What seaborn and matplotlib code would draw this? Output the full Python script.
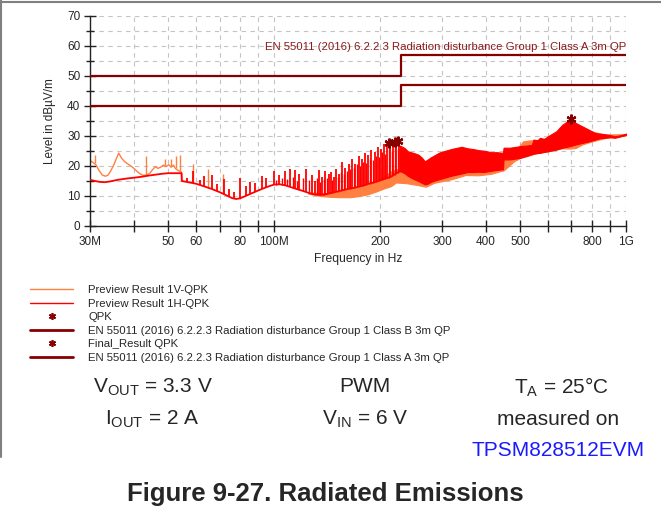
import matplotlib
matplotlib.use('Agg')
import matplotlib.pyplot as plt
from matplotlib.lines import Line2D
import seaborn as sns

# all frequencies in MHz, levels in dBuV/m

# Preview Result 1H-QPK (red): baseline 30M..230M
h_base_f = [30, 31, 32, 33, 34, 35, 36, 38, 40, 42, 44, 46, 48, 50, 52, 54.6,
            54.7, 57, 60, 63, 66, 70, 73, 76, 78, 80, 83, 86, 90, 94, 97, 100,
            104, 108, 112, 116, 120, 125, 129, 134, 138, 144, 150, 156, 163, 170,
            178, 186, 193, 200, 207, 214, 220, 226, 230]
h_base_v = [15.4, 15.0, 14.7, 14.6, 14.8, 15.1, 15.4, 15.8, 16.1, 16.4, 16.8, 17.1,
            17.4, 17.6, 17.6, 17.6, 15.0, 14.6, 14.1, 13.3, 12.5, 11.3, 10.3, 9.3,
            9.0, 9.2, 10.0, 10.8, 11.8, 12.7, 13.3, 13.8, 13.9, 13.5, 12.9, 12.3,
            11.8, 11.1, 10.6, 10.4, 10.4, 10.9, 11.4, 11.9, 12.4, 12.8, 13.4, 14.1,
            14.6, 15.2, 15.8, 16.3, 17.2, 18.0, 18.3]

# 1H spikes: frequency, foot, top
h_spike_f = [56.5, 59, 61.5, 63.3, 66.5, 69, 71.9, 74.4, 77, 80.2, 83, 85.7, 88.5,
             92.5, 95, 100, 103, 107.6, 111, 114.8, 118, 123, 128, 131, 134, 137,
             140, 143, 145, 148, 150, 153, 156, 159.5, 163, 166.5, 170, 174, 177.6,
             181, 185, 189, 193, 197, 201, 205, 209.5, 214, 218, 222.5, 226]
h_spike_lo = [14.7, 14.2, 13.8, 13.3, 12.5, 11.6, 10.8, 10.0, 9.2, 9.2, 10.0, 10.7,
              11.4, 12.3, 12.8, 13.8, 13.9, 13.5, 13.0, 12.5, 12.1, 11.4, 10.7, 10.5,
              10.4, 10.4, 10.5, 10.8, 10.9, 11.2, 11.4, 11.6, 11.9, 12.1, 12.4, 12.6,
              12.8, 13.1, 13.4, 13.6, 14.0, 14.3, 14.6, 14.9, 15.3, 15.6, 16.0, 16.3,
              16.9, 17.5, 18.0]
h_spike_hi = [16.0, 18.3, 15.5, 16.7, 16.9, 14.0, 15.6, 12.5, 11.5, 16.1, 13.3, 14.7,
              14.2, 16.7, 16.1, 18.3, 17.0, 18.2, 19.1, 18.6, 17.5, 19.1, 17.0, 15.0,
              18.8, 16.5, 18.3, 17.5, 17.9, 16.5, 19.1, 17.5, 21.3, 19.4, 20.5, 22.4,
              20.5, 23.3, 22.5, 24.4, 23.8, 25.3, 24.8, 26.4, 25.8, 27.2, 27.7, 28.2,
              28.0, 28.2, 28.0]

# smaller 1H spikes sitting between the main ones
h_spike2_f = [101.5, 105.5, 109, 113, 116.5, 120.5, 125.5, 132.5, 135.5, 138.5, 141.5,
              146.5, 151.5, 154.5, 157.7, 161.2, 164.7, 168.2, 172, 175.8, 179.3, 183,
              187, 191, 195, 199, 203, 207, 211.8, 216, 220.2, 224.3, 228]
h_spike2_lo = [13.8, 13.8, 13.3, 12.8, 12.3, 11.7, 11.0, 10.4, 10.4, 10.4, 10.6, 11.0,
               11.5, 11.7, 12.0, 12.2, 12.5, 12.7, 12.9, 13.2, 13.5, 13.8, 14.1, 14.5,
               14.7, 15.1, 15.4, 15.8, 16.1, 16.6, 17.1, 17.7, 18.2]
h_spike2_hi = [15.5, 16.0, 15.8, 16.5, 15.0, 16.0, 15.5, 16.0, 14.8, 15.8, 16.0, 15.5,
               16.5, 18.0, 17.5, 18.5, 19.0, 19.5, 20.5, 20.0, 21.5, 21.0, 22.5, 22.0,
               23.5, 23.0, 24.5, 24.0, 25.5, 25.0, 26.0, 25.5, 26.5]

# 1H dense band 228M..1G
h_band_f = [228, 235, 240, 250, 257, 263, 268, 272, 278, 285, 295, 305, 320, 341,
            355, 370, 380, 395, 414, 430, 447, 449, 468, 500, 520, 540, 546, 560,
            570, 585, 600, 634, 660, 692, 721, 752, 784, 817, 840, 870, 900, 930,
            960, 1000]
h_band_lo = [18.3, 17.6, 16.7, 15.6, 15.0, 14.4, 13.9, 14.0, 14.6, 15.1, 15.6, 16.1,
             16.8, 17.5, 18.0, 18.0, 18.1, 18.0, 18.4, 18.7, 18.9, 22.2, 22.2, 22.7,
             23.3, 23.9, 24.1, 24.3, 24.4, 24.7, 24.9, 25.5, 26.1, 26.6, 27.2, 27.7,
             28.2, 28.8, 29.2, 29.4, 29.6, 29.4, 29.8, 30.4]
h_band_hi = [26.8, 26.0, 24.9, 24.3, 23.8, 22.8, 21.6, 22.0, 22.8, 23.5, 24.5, 25.0,
             25.7, 26.4, 25.9, 25.6, 25.3, 25.1, 24.6, 24.6, 24.4, 26.1, 26.1, 26.6,
             26.8, 27.0, 28.8, 28.6, 29.4, 29.0, 29.9, 31.6, 33.8, 35.4, 34.3, 33.2,
             32.1, 31.0, 30.8, 30.6, 30.3, 29.9, 30.2, 30.8]

# Preview Result 1V-QPK (orange): trace 30M..55M
v_f = [30.0, 30.5, 31.2, 31.8, 32.5, 33.2, 33.8, 34.4, 35.0, 35.6, 36.2, 36.8, 37.5,
       38.3, 39.2, 40.0, 40.8, 41.6, 42.4, 43.5, 44.4, 45.2, 46.0, 46.8, 47.6, 48.5,
       49.4, 50.2, 51.0, 51.8, 52.4, 53.0, 53.6, 54.6, 54.7]
v_v = [21.8, 21.3, 20.4, 18.6, 17.0, 16.6, 17.0, 18.5, 20.2, 22.3, 24.3, 22.8, 21.6,
       20.8, 20.0, 19.2, 18.2, 17.4, 16.9, 17.0, 17.6, 18.8, 19.8, 19.2, 19.6, 20.3,
       19.8, 20.4, 19.6, 20.3, 19.2, 18.8, 18.4, 18.0, 15.0]

v_spike_f = [31.0, 43.3, 48.9, 50.8, 52.6, 54.2, 59, 65, 71.5]
v_spike_lo = [21.0, 17.0, 20.0, 20.0, 19.5, 18.5, 14.2, 12.8, 11.0]
v_spike_hi = [23.8, 23.3, 22.3, 22.3, 23.2, 23.8, 20.5, 18.9, 17.2]

# 1V band 125M..1G
v_band_f = [125, 135, 145, 155, 165, 175, 185, 195, 205, 215, 222, 230, 240, 257,
            270, 285, 320, 350, 380, 414, 440, 449, 480, 500, 510, 530, 545, 560,
            600, 660, 692, 720, 752, 800, 870, 1000]
v_band_lo = [10.8, 10.0, 9.7, 9.6, 9.6, 10.0, 10.6, 11.5, 12.5, 13.3, 14.5, 14.4,
             14.2, 13.6, 13.1, 14.4, 15.6, 17.0, 16.9, 17.4, 18.3, 18.5, 21.5, 22.7,
             23.0, 23.5, 24.0, 24.3, 24.9, 25.9, 25.8, 26.0, 27.2, 28.2, 29.3, 30.2]
v_band_hi = [11.2, 11.0, 11.0, 11.8, 12.4, 13.2, 14.0, 15.0, 16.5, 18.2, 19.0, 18.5,
             17.0, 15.5, 14.5, 16.0, 17.5, 18.5, 18.5, 19.0, 19.5, 22.5, 24.0, 27.0,
             28.2, 28.5, 28.6, 28.5, 29.5, 32.0, 33.0, 33.0, 32.5, 31.5, 30.5, 30.6]

# quasi-peak final measurements
qpk_f = [212, 220, 225, 696]
qpk_v = [27.8, 28.1, 28.3, 35.8]

# EN 55011 limit lines
limit_f = [30, 230, 230, 1000]
class_b = [40, 40, 47, 47]
class_a = [50, 50, 57, 57]

xtick_pos = [30, 40, 50, 60, 70, 80, 90, 100, 200, 300, 400, 500, 600, 700, 800, 900, 1000]
xtick_lab = ['30M', '', '50', '60', '', '80', '', '100M', '200', '300', '400', '500',
             '', '', '800', '', '1G']

ORANGE = '#ff8040'
RED = '#ff0000'
DARKRED = '#870000'
STAR = (6, 2, 0)
LIMIT_A = 'EN 55011 (2016) 6.2.2.3 Radiation disturbance Group 1 Class A 3m QP'
LIMIT_B = 'EN 55011 (2016) 6.2.2.3 Radiation disturbance Group 1 Class B 3m QP'

sns.set_style('ticks')
plt.rcParams['font.family'] = ['Liberation Sans', 'DejaVu Sans']
plt.rcParams['mathtext.default'] = 'regular'

fig = plt.figure(figsize=(6.61, 5.18), dpi=100)
ax = fig.add_axes([90 / 661, 1 - 226 / 518, 536 / 661, 210 / 518])

# orange (vertical polarisation) first, red on top
ax.fill_between(v_band_f, v_band_lo, v_band_hi, color=ORANGE, lw=0.8, zorder=2)
sns.lineplot(x=v_f, y=v_v, ax=ax, color=ORANGE, lw=1.0, estimator=None, sort=False, zorder=2)
ax.vlines(v_spike_f, v_spike_lo, v_spike_hi, color=ORANGE, lw=1.0, zorder=2)

ax.vlines(h_spike2_f, h_spike2_lo, h_spike2_hi, color=RED, lw=1.0, zorder=3)
ax.vlines(h_spike_f, h_spike_lo, h_spike_hi, color=RED, lw=1.3, zorder=3)
sns.lineplot(x=h_base_f, y=h_base_v, ax=ax, color=RED, lw=1.3, estimator=None, sort=False, zorder=3)
ax.fill_between(h_band_f, h_band_lo, h_band_hi, color=RED, lw=0.8, zorder=3)

sns.lineplot(x=limit_f, y=class_b, ax=ax, color=DARKRED, lw=1.6, estimator=None, sort=False, zorder=4)
sns.lineplot(x=limit_f, y=class_a, ax=ax, color=DARKRED, lw=1.6, estimator=None, sort=False, zorder=4)
ax.plot(qpk_f, qpk_v, ls='none', marker=STAR, ms=7, mew=1.6, color=DARKRED, zorder=5)

ax.text(1000, 57.9, LIMIT_A, ha='right', va='bottom', color='#8b1a1a', fontsize=8.2)

ax.set_xscale('log')
ax.set_xlim(30, 1000)
ax.set_ylim(0, 70)
ax.set_xticks(xtick_pos)
ax.set_xticklabels(xtick_lab)
ax.xaxis.set_minor_locator(matplotlib.ticker.NullLocator())
ax.set_yticks(range(0, 71, 10))
ax.set_yticks(range(5, 70, 10), minor=True)
ax.tick_params(axis='both', which='major', direction='inout', length=8, width=1,
               color='#222222', labelsize=8.5, pad=3)
ax.tick_params(axis='y', which='minor', direction='inout', length=6, width=1, color='#222222')
ax.grid(True, which='both', color='#c4c4c4', lw=0.8, ls=(0, (4, 4)))
ax.set_axisbelow(True)
sns.despine(ax=ax)
for s in ('left', 'bottom'):
    ax.spines[s].set_color('#222222')
    ax.spines[s].set_linewidth(1)
ax.set_xlabel('Frequency in Hz', fontsize=8.7, labelpad=4)
ax.set_ylabel('Level in dBµV/m', fontsize=8.5, labelpad=8)

handles = [
    Line2D([], [], color=ORANGE, lw=1),
    Line2D([], [], color=RED, lw=1),
    Line2D([], [], color=DARKRED, ls='none', marker=STAR, ms=5, mew=1.2),
    Line2D([], [], color=DARKRED, lw=2),
    Line2D([], [], color=DARKRED, ls='none', marker=STAR, ms=5, mew=1.2),
    Line2D([], [], color=DARKRED, lw=2),
]
labels = ['Preview Result 1V-QPK', 'Preview Result 1H-QPK', 'QPK', LIMIT_B,
          'Final_Result QPK', LIMIT_A]
fig.legend(handles, labels, loc='upper left', bbox_to_anchor=(30 / 661, 1 - 285 / 518),
           frameon=False, fontsize=8.2, handlelength=3.8, handletextpad=1.3,
           labelspacing=0.31, borderpad=0, borderaxespad=0)

# condition notes under the plot
big = 15
fig.text(0.231, 0.253, 'V$_{OUT}$ = 3.3 V', ha='center', va='center', fontsize=big)
fig.text(0.231, 0.191, 'I$_{OUT}$ = 2 A', ha='center', va='center', fontsize=big)
fig.text(0.552, 0.253, 'PWM', ha='center', va='center', fontsize=big)
fig.text(0.552, 0.191, 'V$_{IN}$ = 6 V', ha='center', va='center', fontsize=big)
fig.text(0.850, 0.253, 'T$_{A}$ = 25°C', ha='center', va='center', fontsize=big)
fig.text(0.845, 0.191, 'measured on', ha='center', va='center', fontsize=big)
fig.text(0.845, 0.131, 'TPSM828512EVM', ha='center', va='center', fontsize=big, color='#1a1aff')
fig.text(0.492, 0.046, 'Figure 9-27. Radiated Emissions', ha='center', va='center',
         fontsize=18.5, fontweight='bold')

# page frame
fig.add_artist(Line2D([0, 1], [0.997, 0.997], transform=fig.transFigure, color='#808080', lw=1.5))
fig.add_artist(Line2D([0.002, 0.002], [1, 1 - 457 / 518], transform=fig.transFigure,
                      color='#808080', lw=1.5))

fig.savefig('out.png', dpi=100)
